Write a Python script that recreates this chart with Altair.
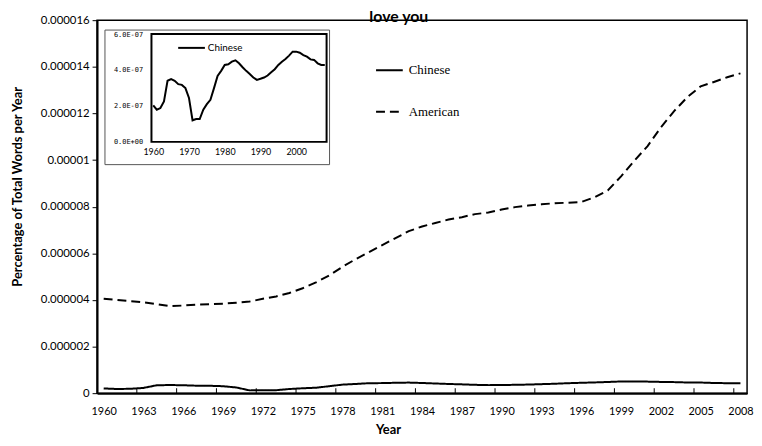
import altair as alt
import pandas as pd

years = list(range(1960, 2009))
# Chinese, in units of 1e-7
chinese = [2.03, 1.79, 1.88, 2.25, 3.40, 3.49, 3.40, 3.21, 3.17, 2.99,
           2.44, 1.20, 1.27, 1.27, 1.79, 2.10, 2.34, 2.99, 3.67, 3.95,
           4.28, 4.32, 4.46, 4.54, 4.37, 4.15, 3.95, 3.78, 3.58, 3.45,
           3.51, 3.58, 3.69, 3.87, 4.04, 4.28, 4.46, 4.61, 4.80, 5.02,
           5.02, 4.96, 4.83, 4.74, 4.59, 4.56, 4.37, 4.28, 4.28]
# American, in units of 1e-6
american = [4.05, 4.00, 3.95, 3.90, 3.82, 3.73, 3.76, 3.80, 3.82, 3.84,
            3.88, 3.93, 4.05, 4.15, 4.30, 4.50, 4.75, 5.05, 5.42, 5.75,
            6.05, 6.35, 6.65, 6.95, 7.15, 7.30, 7.45, 7.55, 7.68, 7.75,
            7.88, 7.98, 8.05, 8.10, 8.15, 8.17, 8.20, 8.40, 8.70, 9.30,
            9.97, 10.60, 11.40, 12.10, 12.70, 13.16, 13.35, 13.55, 13.72]
series = ["Chinese", "American"]
x_label_years = list(range(1960, 2009, 3))
y_ticks = [0, 0.000002, 0.000004, 0.000006, 0.000008, 0.00001, 0.000012, 0.000014, 0.000016]
inset_x_labels = [1960, 1970, 1980, 1990, 2000]
inset_y_ticks = [0, 2e-7, 4e-7, 6e-7]
inset_legend = ["Chinese"]
chart_title = ["love you"]

W, H = 657, 377

main_df = pd.DataFrame({
    "Year": years * 2,
    "Value": [v * 1e-7 for v in chinese] + [v * 1e-6 for v in american],
    "Series": ["Chinese"] * len(years) + ["American"] * len(years),
})
inset_df = pd.DataFrame({"Year": years, "Value": [v * 1e-7 for v in chinese]})
tick_df = pd.DataFrame({"b": [y - 0.5 for y in x_label_years[1:]]})
leg_df = pd.DataFrame({"label": inset_legend})
title_df = pd.DataFrame({"t": chart_title})

xscale = alt.Scale(domain=[1959.5, 2008.5], nice=False, zero=False)
yscale = alt.Scale(domain=[0, 0.000016], nice=False)

main_lines = alt.Chart(main_df).mark_line(color="black", strokeWidth=2).encode(
    x=alt.X("Year:Q", scale=xscale, axis=alt.Axis(
        values=x_label_years, format="d", ticks=False, grid=False, domain=True,
        domainColor="black", domainWidth=2,
        labelFont="Lato", labelFontSize=11, labelColor="black", labelPadding=13,
        title="Year", titleFont="Lato", titleFontSize=13, titleFontWeight="bold",
        titleColor="black", titleX=294, titleY=41, titleBaseline="alphabetic")),
    y=alt.Y("Value:Q", scale=yscale, axis=alt.Axis(
        values=y_ticks, labelExpr="datum.value == 0 ? '0' : format(datum.value, '.6~f')",
        tickSize=5, tickColor="black", tickWidth=1, grid=False, domain=True,
        domainColor="black", domainWidth=2,
        labelFont="Lato", labelFontSize=11.5, labelColor="black", labelPadding=3,
        title="Percentage of Total Words per Year", titleFont="Lato", titleFontSize=13,
        titleFontWeight="bold", titleColor="black", titleX=-80, titleY=168,
        titleBaseline="middle", titleAngle=270)),
    strokeDash=alt.StrokeDash("Series:N", sort=series,
        scale=alt.Scale(domain=series, range=[[1, 0], [9, 5]]),
        legend=alt.Legend(title=None, orient="none", legendX=281, legendY=36,
                          symbolType="stroke", symbolSize=729, symbolStrokeWidth=2,
                          symbolStrokeColor="black", labelFont="Liberation Serif",
                          labelFontSize=13, labelColor="black", labelOffset=5,
                          rowPadding=20, padding=0)),
)

inward_ticks = alt.Chart(tick_df).mark_rule(color="black", strokeWidth=1).encode(
    x=alt.X("b:Q", scale=xscale), y=alt.value(H), y2=alt.value(H - 5))

title_text = alt.Chart(title_df).mark_text(
    font="Lato", fontSize=16, fontWeight="bold", color="black",
    align="center", baseline="alphabetic").encode(
    text="t:N", x=alt.value(305), y=alt.value(1.5))

main_layer = alt.layer(main_lines, inward_ticks, title_text)

inset_box = alt.Chart(leg_df).mark_rect(fill="white", stroke="#555", strokeWidth=1).encode(
    x=alt.value(8), x2=alt.value(235), y=alt.value(10), y2=alt.value(146))

ixscale = alt.Scale(domain=[1959.5, 2008.5], nice=False, zero=False, range=[55, 232])
iyscale = alt.Scale(domain=[0, 6e-7], nice=False, range=[123, 14])

inset_line = alt.Chart(inset_df).mark_line(color="black", strokeWidth=2).encode(
    x=alt.X("Year:Q", scale=ixscale, axis=alt.Axis(
        orient="bottom", offset=-(H - 123), values=inset_x_labels, format="d",
        ticks=False, domain=False, grid=False, labelFont="Lato", labelFontSize=9,
        labelColor="black", labelPadding=6, title=None, zindex=2)),
    y=alt.Y("Value:Q", scale=iyscale, axis=alt.Axis(
        orient="left", offset=-55, values=inset_y_ticks,
        labelExpr="datum.value == 0 ? '0.0E+00' : format(datum.value / 1e-7, '.1f') + 'E-07'",
        ticks=False, domain=False, grid=False, labelFont="DejaVu Sans Mono",
        labelFontSize=7, labelColor="black", labelPadding=9, title=None, zindex=2)),
)

inset_frame = alt.Chart(leg_df).mark_rect(fill=None, stroke="black", strokeWidth=2).encode(
    x=alt.value(55), x2=alt.value(232), y=alt.value(14), y2=alt.value(123))

inset_leg_line = alt.Chart(leg_df).mark_rule(color="black", strokeWidth=2).encode(
    x=alt.value(82), x2=alt.value(109), y=alt.value(28))
inset_leg_text = alt.Chart(leg_df).mark_text(
    align="left", baseline="middle", font="Lato", fontSize=10,
    color="black").encode(text="label:N", x=alt.value(112), y=alt.value(28))

inset_layer = alt.layer(inset_box, inset_line, inset_frame, inset_leg_line, inset_leg_text)

chart = alt.layer(main_layer, inset_layer).resolve_scale(
    x="independent", y="independent"
).properties(
    width=W, height=H,
    padding={"left": 90, "top": 10, "right": 7, "bottom": 43},
    autosize=alt.AutoSizeParams(type="none"),
).configure_view(stroke="black", strokeWidth=1.5)

chart.save("out.html", embed_options={"renderer": "svg", "actions": False})
